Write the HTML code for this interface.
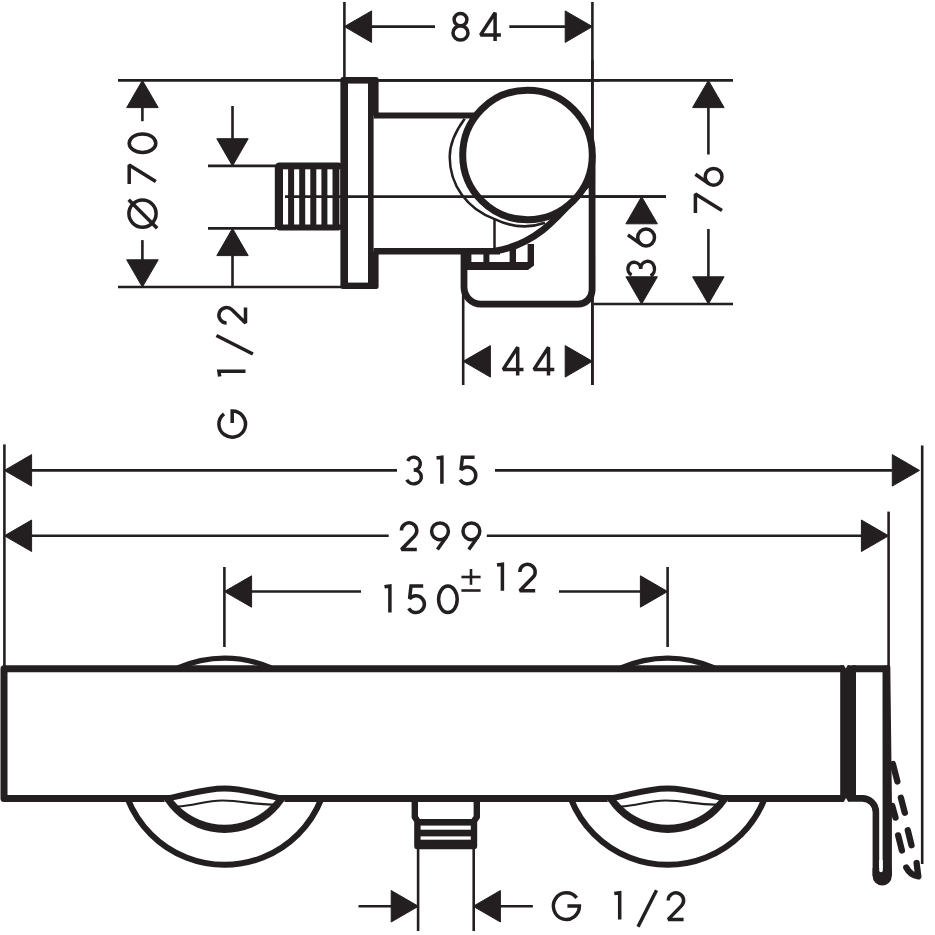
<!DOCTYPE html>
<html><head><meta charset="utf-8"><title>Dimension drawing</title>
<style>html,body{margin:0;padding:0;background:#fff;}body{width:935px;height:935px;overflow:hidden;font-family:"Liberation Sans",sans-serif;}svg{display:block}</style>
</head><body>
<svg width="935" height="935" viewBox="0 0 935 935">
<defs><clipPath id="below2"><rect x="0" y="795.5" width="935" height="134"/></clipPath><clipPath id="low"><rect x="0" y="760" width="935" height="175"/></clipPath><clipPath id="below"><rect x="0" y="797.5" width="935" height="134"/></clipPath></defs>
<rect width="935" height="935" fill="#fff"/>
<g stroke="#231f20" fill="none">
<line x1="118" y1="80.4" x2="733" y2="80.4" stroke-width="2.6" stroke-linecap="butt"/>
<line x1="118" y1="287" x2="341" y2="287" stroke-width="2.6" stroke-linecap="butt"/>
<line x1="285" y1="196.6" x2="666" y2="196.6" stroke-width="2.6" stroke-linecap="butt"/>
<line x1="594" y1="304" x2="733" y2="304" stroke-width="2.6" stroke-linecap="butt"/>
<line x1="344.4" y1="2" x2="344.4" y2="78" stroke-width="2.6" stroke-linecap="butt"/>
<line x1="592.4" y1="2" x2="592.4" y2="385" stroke-width="2.6" stroke-linecap="butt"/>
<line x1="463.2" y1="254" x2="463.2" y2="385" stroke-width="2.6" stroke-linecap="butt"/>
<line x1="208" y1="165.9" x2="276" y2="165.9" stroke-width="2.6" stroke-linecap="butt"/>
<line x1="208" y1="228.4" x2="276" y2="228.4" stroke-width="2.6" stroke-linecap="butt"/>
<line x1="370" y1="26.6" x2="435" y2="26.6" stroke-width="2.6" stroke-linecap="butt"/>
<line x1="509.3" y1="26.6" x2="567" y2="26.6" stroke-width="2.6" stroke-linecap="butt"/>
<line x1="142.4" y1="105" x2="142.4" y2="121.2" stroke-width="2.6" stroke-linecap="butt"/>
<line x1="142.4" y1="240.1" x2="142.4" y2="262" stroke-width="2.6" stroke-linecap="butt"/>
<line x1="232.5" y1="106" x2="232.5" y2="140" stroke-width="2.6" stroke-linecap="butt"/>
<line x1="232.5" y1="254" x2="232.5" y2="287" stroke-width="2.6" stroke-linecap="butt"/>
<line x1="708.4" y1="105" x2="708.4" y2="154.5" stroke-width="2.6" stroke-linecap="butt"/>
<line x1="708.4" y1="229" x2="708.4" y2="278" stroke-width="2.6" stroke-linecap="butt"/>
</g>
<polygon points="344.4,26.6 371.6,10.9 371.6,42.4" fill="#231f20" stroke="#231f20" stroke-width="1" stroke-linejoin="round"/>
<polygon points="592.4,26.6 565.2,10.9 565.2,42.4" fill="#231f20" stroke="#231f20" stroke-width="1" stroke-linejoin="round"/>
<polygon points="142.4,80.4 126.7,107.6 158.2,107.6" fill="#231f20" stroke="#231f20" stroke-width="1" stroke-linejoin="round"/>
<polygon points="142.4,287.0 126.7,259.8 158.2,259.8" fill="#231f20" stroke="#231f20" stroke-width="1" stroke-linejoin="round"/>
<polygon points="232.5,165.9 216.8,138.7 248.2,138.7" fill="#231f20" stroke="#231f20" stroke-width="1" stroke-linejoin="round"/>
<polygon points="232.5,228.4 216.8,255.6 248.2,255.6" fill="#231f20" stroke="#231f20" stroke-width="1" stroke-linejoin="round"/>
<polygon points="708.4,80.4 692.6,107.6 724.1,107.6" fill="#231f20" stroke="#231f20" stroke-width="1" stroke-linejoin="round"/>
<polygon points="708.4,304.0 692.6,276.8 724.1,276.8" fill="#231f20" stroke="#231f20" stroke-width="1" stroke-linejoin="round"/>
<polygon points="641.6,196.6 625.9,223.8 657.4,223.8" fill="#231f20" stroke="#231f20" stroke-width="1" stroke-linejoin="round"/>
<polygon points="641.6,304.0 625.9,276.8 657.4,276.8" fill="#231f20" stroke="#231f20" stroke-width="1" stroke-linejoin="round"/>
<polygon points="463.2,361.3 490.4,345.6 490.4,377.1" fill="#231f20" stroke="#231f20" stroke-width="1" stroke-linejoin="round"/>
<polygon points="592.4,361.3 565.2,345.6 565.2,377.1" fill="#231f20" stroke="#231f20" stroke-width="1" stroke-linejoin="round"/>
<g stroke="#231f20" fill="none" stroke-linejoin="round">
<rect x="274.8" y="162.5" width="68" height="67.9" rx="4.5" fill="#231f20" stroke="none"/>
<rect x="283.0" y="169.3" width="5.1" height="55.2" fill="#fff" stroke="none"/>
<rect x="294.1" y="169.3" width="5.1" height="55.2" fill="#fff" stroke="none"/>
<rect x="305.2" y="169.3" width="5.1" height="55.2" fill="#fff" stroke="none"/>
<rect x="316.3" y="169.3" width="5.1" height="55.2" fill="#fff" stroke="none"/>
<rect x="327.4" y="169.3" width="5.1" height="55.2" fill="#fff" stroke="none"/>
<rect x="339.4" y="169.3" width="1" height="55.2" fill="#fff" stroke="none"/>
<rect x="340.4" y="77" width="38.2" height="212" rx="2.5" fill="#231f20" stroke="none"/>
<rect x="348" y="83.6" width="20" height="199" fill="#fff" stroke="none"/>
<rect x="373.6" y="115.5" width="125" height="135.8" fill="#fff" stroke="none"/>
<line x1="373.6" y1="115.5" x2="475" y2="115.5" stroke-width="5.8" stroke-linecap="butt"/>
<line x1="373.6" y1="251.3" x2="500" y2="251.3" stroke-width="6.4" stroke-linecap="butt"/>
<path d="M464.7,118.7 C457,129 449.7,142 449.7,157 C449.7,185 467,209 494.7,219.1 C508,225.5 526,229.5 545,222.8" stroke-width="2.5"/>
<line x1="494.5" y1="218.7" x2="494.5" y2="250" stroke-width="2.5" stroke-linecap="butt"/>
<path d="M592,180 C572,196 548,243 495,251" stroke-width="6.8"/>
<path d="M464,251 V287 A17,17 0 0 0 481,304.1 H578 A14,14 0 0 0 592.1,290 V155" stroke-width="6.8"/>
<polygon points="466,262 534,262 534,265.6 528,270 466,270" fill="#231f20" stroke="none"/>
<rect x="483.4" y="251" width="6" height="12" fill="#231f20" stroke="none"/>
<rect x="466" y="251" width="5.4" height="12" fill="#231f20" stroke="none"/>
<rect x="509.6" y="248" width="6.4" height="15" fill="#231f20" stroke="none"/>
<rect x="527.6" y="244" width="6.4" height="19" fill="#231f20" stroke="none"/>
<circle cx="527.5" cy="155" r="64.8" stroke-width="7" fill="#fff"/>
</g>
<g stroke="#231f20" fill="none">
<line x1="340" y1="80.4" x2="600" y2="80.4" stroke-width="2.6" stroke-linecap="butt"/>
<line x1="285" y1="196.6" x2="666" y2="196.6" stroke-width="2.6" stroke-linecap="butt"/>
<line x1="592.4" y1="60" x2="592.4" y2="385" stroke-width="2.6" stroke-linecap="butt"/>
</g>
<g stroke="#231f20" fill="none" stroke-width="3.5" stroke-linejoin="miter" stroke-miterlimit="2">
<g transform="translate(453,13.4)"><ellipse cx="7.5" cy="6.2" rx="6.4" ry="6.2"/><ellipse cx="7.5" cy="19.5" rx="7.5" ry="7.1"/></g>
<g transform="translate(480.6,13.4)"><path d="M20.3,21.5 H0 L14.5,-0.6 V27.6"/></g>
<g transform="translate(503.2,347.9)"><path d="M20.3,21.5 H0 L14.5,-0.6 V27.6"/></g>
<g transform="translate(534,347.9)"><path d="M20.3,21.5 H0 L14.5,-0.6 V27.6"/></g>
<g transform="translate(129.2,152.5) rotate(-90)"><ellipse cx="9.3" cy="13.3" rx="9.3" ry="13.3"/></g>
<g transform="translate(129.2,184) rotate(-90)"><path d="M0,0 H19 L2.5,26.6"/></g>
<g transform="translate(129.2,227.3) rotate(-90)"><ellipse cx="13.7" cy="13.3" rx="13.7" ry="13.6"/><path d="M27.5,-0.5 L-1,28"/></g>
<g transform="translate(218.9,437.1) rotate(-90)"><path d="M23.24,5.11 A13,13.3 0 1 0 26,13.3 H14"/></g>
<g transform="translate(218.9,376.6) rotate(-90)"><path d="M0,0.8 L5.4,0 V26.6"/></g>
<g transform="translate(218.9,354) rotate(-90)"><path d="M18.5,-2.5 L0,34"/></g>
<g transform="translate(218.9,323.1) rotate(-90)"><path d="M0.2,7.7 A7.7,7.7 0 1 1 13.41,13.08 L0.2,26.6 H15.6"/></g>
<g transform="translate(695.4,185.2) rotate(-90)"><path d="M11,0 L1.55,13.34"/><circle cx="8.4" cy="18.2" r="8.4"/></g>
<g transform="translate(695.4,213) rotate(-90)"><path d="M0,0 H19 L2.5,26.6"/></g>
<g transform="translate(627.9,245.9) rotate(-90)"><path d="M11,0 L1.55,13.34"/><circle cx="8.4" cy="18.2" r="8.4"/></g>
<g transform="translate(627.9,276.8) rotate(-90)"><path d="M1.92,3.7 A6.6,6.4 0 1 1 7.9,12.8 A7.6,6.9 0 1 1 1.01,22.62"/></g>
</g>
<g stroke="#231f20" fill="none">
<line x1="4.4" y1="444.4" x2="4.4" y2="668" stroke-width="2.6" stroke-linecap="butt"/>
<line x1="922.2" y1="445.6" x2="922.2" y2="864.1" stroke-width="2.6" stroke-linecap="butt"/>
<line x1="888.6" y1="511.6" x2="888.6" y2="668" stroke-width="2.6" stroke-linecap="butt"/>
<line x1="30" y1="470.4" x2="397" y2="470.4" stroke-width="2.6" stroke-linecap="butt"/>
<line x1="495" y1="470.4" x2="892" y2="470.4" stroke-width="2.6" stroke-linecap="butt"/>
<line x1="30" y1="535.8" x2="388.7" y2="535.8" stroke-width="2.6" stroke-linecap="butt"/>
<line x1="486.8" y1="535.8" x2="863" y2="535.8" stroke-width="2.6" stroke-linecap="butt"/>
<line x1="224.4" y1="567" x2="224.4" y2="647" stroke-width="2.6" stroke-linecap="butt"/>
<line x1="667.6" y1="567" x2="667.6" y2="647" stroke-width="2.6" stroke-linecap="butt"/>
<line x1="250" y1="591.5" x2="361" y2="591.5" stroke-width="2.6" stroke-linecap="butt"/>
<line x1="559" y1="591.5" x2="642" y2="591.5" stroke-width="2.6" stroke-linecap="butt"/>
<line x1="418.1" y1="848" x2="418.1" y2="931" stroke-width="2.6" stroke-linecap="butt"/>
<line x1="473.7" y1="848" x2="473.7" y2="931" stroke-width="2.6" stroke-linecap="butt"/>
<line x1="358.5" y1="906.3" x2="392" y2="906.3" stroke-width="2.6" stroke-linecap="butt"/>
<line x1="499" y1="906.3" x2="532.9" y2="906.3" stroke-width="2.6" stroke-linecap="butt"/>
</g>
<polygon points="4.4,470.4 31.6,454.6 31.6,486.1" fill="#231f20" stroke="#231f20" stroke-width="1" stroke-linejoin="round"/>
<polygon points="919.5,470.4 892.3,454.6 892.3,486.1" fill="#231f20" stroke="#231f20" stroke-width="1" stroke-linejoin="round"/>
<polygon points="4.4,535.8 31.6,520.0 31.6,551.5" fill="#231f20" stroke="#231f20" stroke-width="1" stroke-linejoin="round"/>
<polygon points="888.6,535.8 861.4,520.0 861.4,551.5" fill="#231f20" stroke="#231f20" stroke-width="1" stroke-linejoin="round"/>
<polygon points="224.4,591.5 251.6,575.8 251.6,607.2" fill="#231f20" stroke="#231f20" stroke-width="1" stroke-linejoin="round"/>
<polygon points="667.6,591.5 640.4,575.8 640.4,607.2" fill="#231f20" stroke="#231f20" stroke-width="1" stroke-linejoin="round"/>
<polygon points="418.4,906.3 391.2,890.5 391.2,922.0" fill="#231f20" stroke="#231f20" stroke-width="1" stroke-linejoin="round"/>
<polygon points="473.2,906.3 500.4,890.5 500.4,922.0" fill="#231f20" stroke="#231f20" stroke-width="1" stroke-linejoin="round"/>
<g stroke="#231f20" fill="none" stroke-width="3.5" stroke-linejoin="miter" stroke-miterlimit="2">
<g transform="translate(405.8,457.2)"><path d="M1.92,3.7 A6.6,6.4 0 1 1 7.9,12.8 A7.6,6.9 0 1 1 1.01,22.62"/></g>
<g transform="translate(436.5,457.2)"><path d="M0,0.8 L5.4,0 V26.6"/></g>
<g transform="translate(459,457.2)"><path d="M15.6,0 H3.4 L1.97,12.8 A8.4,8.4 0 1 1 1.13,22.4"/></g>
<g transform="translate(401.2,522.9)"><path d="M0.2,7.7 A7.7,7.7 0 1 1 13.41,13.08 L0.2,26.6 H15.6"/></g>
<g transform="translate(431.6,522.9)"><path d="M5.8,26.6 L15.25,13.26"/><circle cx="8.4" cy="8.4" r="8.4"/></g>
<g transform="translate(463,522.9)"><path d="M5.8,26.6 L15.25,13.26"/><circle cx="8.4" cy="8.4" r="8.4"/></g>
<g transform="translate(384.5,586)"><path d="M0,0.8 L5.4,0 V26.6"/></g>
<g transform="translate(407.6,586)"><path d="M15.6,0 H3.4 L1.97,12.8 A8.4,8.4 0 1 1 1.13,22.4"/></g>
<g transform="translate(438.6,586)"><ellipse cx="9.3" cy="13.3" rx="9.3" ry="13.3"/></g>
<g transform="translate(497,564.2)"><path d="M0,0.8 L5.4,0 V26.6"/></g>
<g transform="translate(519.6,564.2)"><path d="M0.2,7.7 A7.7,7.7 0 1 1 13.41,13.08 L0.2,26.6 H15.6"/></g>
<g transform="translate(553.4,892.8)"><path d="M23.24,5.11 A13,13.3 0 1 0 26,13.3 H14"/></g>
<g transform="translate(614.3,892.8)"><path d="M0,0.8 L5.4,0 V26.6"/></g>
<g transform="translate(638,892.8)"><path d="M18.5,-2.5 L0,34"/></g>
<g transform="translate(668,892.8)"><path d="M0.2,7.7 A7.7,7.7 0 1 1 13.41,13.08 L0.2,26.6 H15.6"/></g>
</g>
<g stroke="#231f20" fill="none" stroke-width="2.6">
<line x1="461.4" y1="577" x2="480.6" y2="577" stroke-width="2.6" stroke-linecap="butt"/>
<line x1="471" y1="569" x2="471" y2="584.8" stroke-width="2.6" stroke-linecap="butt"/>
<line x1="461.4" y1="590.5" x2="480.6" y2="590.5" stroke-width="2.6" stroke-linecap="butt"/>
</g>
<g stroke="#231f20" fill="none" stroke-linejoin="round">
<circle cx="224.5" cy="760.8" r="104" stroke-width="6" clip-path="url(#low)"/>
<path d="M177.7,668 A115.9,115.9 0 0 1 271.3,668" stroke-width="5.2"/>
<circle cx="667.7" cy="760.8" r="104" stroke-width="6" clip-path="url(#low)"/>
<path d="M620.9000000000001,668 A115.9,115.9 0 0 1 714.5,668" stroke-width="5.2"/>
<path d="M414.8,798 V817 L417.4,821 V846 H474 V821 L476.8,817 V798" stroke-width="6.4" fill="#fff"/>
<rect x="417" y="819" width="57.5" height="29.8" fill="#231f20" stroke="none"/>
<rect x="420.6" y="825.6" width="50.2" height="4.1" fill="#fff" stroke="none"/>
<rect x="420.6" y="836.4" width="50.2" height="3.3" fill="#fff" stroke="none"/>
<path d="M848,668.8 H4 V798.4 H848 Z" stroke-width="7" fill="#fff"/>
<rect x="840.2" y="665.3" width="15.8" height="135.5" fill="#231f20" stroke="none"/>
<polygon points="843.5,664.5 848,664.5 845.8,668.5" fill="#fff" stroke="none"/>
<polygon points="843.5,802.5 848.5,802.5 846,798" fill="#fff" stroke="none"/>
<path d="M164.5,798.4 C184.5,796 202.5,788.4 224.5,788.4 C246.5,788.4 264.5,796 284.5,798.4 L284.5,803 H164.5 Z" fill="#fff" stroke="none"/>
<circle cx="224.5" cy="761.5" r="71.4" fill="#231f20" stroke="none" clip-path="url(#below)"/>
<circle cx="224.5" cy="759.1" r="65.7" fill="#fff" stroke="none" clip-path="url(#below2)"/>
<path d="M164.5,798.8 C184.5,796 202.5,788.4 224.5,788.4 C246.5,788.4 264.5,796 284.5,798.8" stroke-width="6"/>
<path d="M177.5,806.5 C194.5,806 204.5,800.5 222.5,800.5 C242.5,800.5 254.5,805 273.5,804.5" stroke-width="2.2"/>
<path d="M607.7,798.4 C627.7,796 645.7,788.4 667.7,788.4 C689.7,788.4 707.7,796 727.7,798.4 L727.7,803 H607.7 Z" fill="#fff" stroke="none"/>
<circle cx="667.7" cy="761.5" r="71.4" fill="#231f20" stroke="none" clip-path="url(#below)"/>
<circle cx="667.7" cy="759.1" r="65.7" fill="#fff" stroke="none" clip-path="url(#below2)"/>
<path d="M607.7,798.8 C627.7,796 645.7,788.4 667.7,788.4 C689.7,788.4 707.7,796 727.7,798.8" stroke-width="6"/>
<path d="M620.7,806.5 C637.7,806 647.7,800.5 665.7,800.5 C685.7,800.5 697.7,805 716.7,804.5" stroke-width="2.2"/>
<path d="M852,668.8 H888" stroke-width="7"/>
<path d="M882.5,666 L889.4,665.3 L890.3,666.5 L891.9,800 V876 H882.6 V800 Z" fill="#231f20" stroke="none"/>
<path d="M875.9,876 V812 A13.6,13.6 0 0 0 862.3,798.4 H850" stroke-width="6.6"/>
<path d="M872.6,868 V876 A9.6,9.4 0 0 0 891.8,876 V868 Z" fill="#231f20" stroke="none"/>
<path d="M879.2,860 V870.5 A1.8,1.8 0 0 0 882.8,870.5 V860 Z" fill="#fff" stroke="none"/>
</g>
<g stroke="#231f20" fill="none" stroke-width="6.3" stroke-linecap="round" stroke-linejoin="round">
<line x1="892.9" y1="764" x2="897.4" y2="781.5"/>
<line x1="900.9" y1="797.8" x2="904.8" y2="812.8"/>
<line x1="907.8" y1="830.3" x2="911.5" y2="845.3"/>
<line x1="892.3" y1="806" x2="895.5" y2="817.6"/>
<line x1="898.2" y1="835.4" x2="901.9" y2="850.5"/>
<path d="M906.3,867.5 Q910.5,875.5 918.3,876.4 L916.6,863"/>
</g>
</svg>
</body></html>
